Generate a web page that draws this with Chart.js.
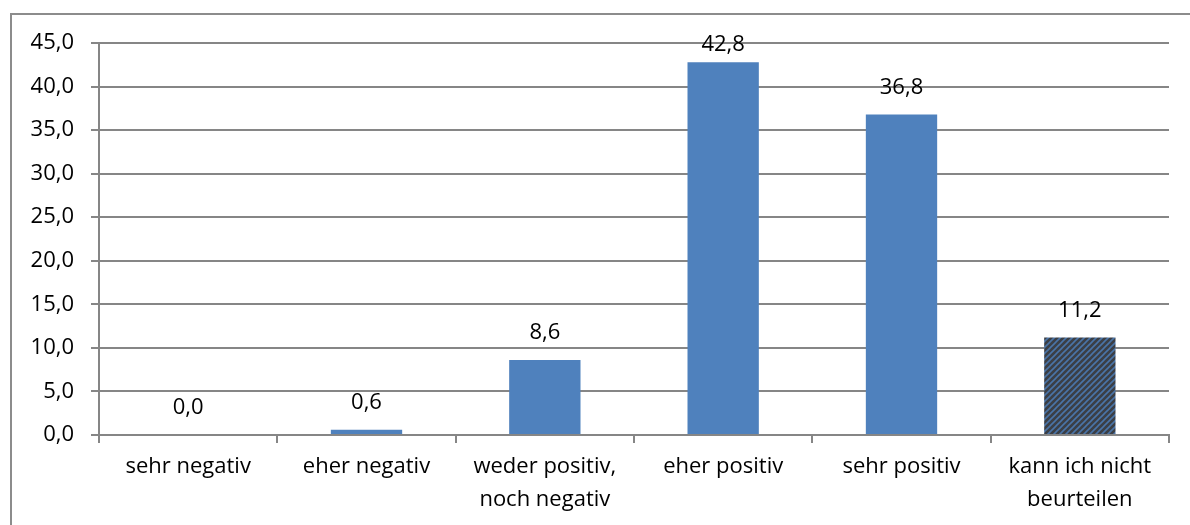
<!DOCTYPE html>
<html lang="de">
<head>
<meta charset="UTF-8" />
<title>Bewertung</title>
<script src="https://cdn.jsdelivr.net/npm/chart.js"></script>
<style>
  html, body { margin: 0; padding: 0; background: #fff; }
  #wrap { position: relative; width: 1190px; height: 525px; }
  #frame {
    position: absolute; left: 10px; top: 13px; right: -2px; bottom: -2px;
    border-top: 2px solid #8c8c8c; border-left: 2px solid #8c8c8c;
  }
  canvas { position: absolute; left: 0; top: 0; }
</style>
</head>
<body>
<div id="wrap">
  <div id="frame"></div>
  <canvas id="chart" width="1190" height="525"></canvas>
</div>
<script>
// Kategorien und Werte (Prozent)
const categories = [
  "sehr negativ",
  "eher negativ",
  ["weder positiv,", "noch negativ"],
  "eher positiv",
  "sehr positiv",
  ["kann ich nicht", "beurteilen"]
];
const values = [0.0, 0.6, 8.6, 42.8, 36.8, 11.2];
const yTicks = [0, 5, 10, 15, 20, 25, 30, 35, 40, 45];

const blue = "#4f81bd";
const gridGray = "#868686";
const fontFam = "'Open Sans', 'Noto Sans', sans-serif";
const fontSize = 22;

// schraffiertes Muster fuer "kann ich nicht beurteilen"
function makeHatch() {
  const c = document.createElement("canvas");
  c.width = 6; c.height = 6;
  const g = c.getContext("2d");
  g.fillStyle = "#3b3f46";
  g.fillRect(0, 0, 6, 6);
  g.strokeStyle = "#4a74a8";
  g.lineWidth = 1.6;
  g.beginPath();
  g.moveTo(-1, 7); g.lineTo(7, -1);
  g.moveTo(-4, 4); g.lineTo(4, -4);
  g.moveTo(2, 10); g.lineTo(10, 2);
  g.stroke();
  return g.createPattern(c, "repeat");
}
const hatch = makeHatch();
const barColors = values.map((v, i) => i === values.length - 1 ? hatch : blue);

const fmt = (v) => v.toFixed(1).replace(".", ",");

const valueLabels = {
  id: "valueLabels",
  afterDatasetsDraw(chart) {
    const ctx = chart.ctx;
    const meta = chart.getDatasetMeta(0);
    ctx.save();
    ctx.font = fontSize + "px " + fontFam;
    ctx.fillStyle = "#000";
    ctx.textAlign = "center";
    ctx.textBaseline = "middle";
    meta.data.forEach((bar, i) => {
      let y = bar.y - 27;
      if (y < 45) y = 45;
      ctx.fillText(fmt(values[i]), bar.x, y);
    });
    ctx.restore();
  }
};

new Chart(document.getElementById("chart"), {
  type: "bar",
  data: {
    labels: categories,
    datasets: [{
      data: values,
      backgroundColor: barColors,
      borderWidth: 0,
      categoryPercentage: 1.0,
      barPercentage: 0.4
    }]
  },
  options: {
    responsive: false,
    animation: false,
    events: [],
    layout: { padding: { left: 0, right: 21, top: 43, bottom: 0 } },
    plugins: { legend: { display: false }, tooltip: { enabled: false } },
    scales: {
      x: {
        offset: true,
        grid: {
          offset: true,
          drawOnChartArea: false,
          drawTicks: true,
          tickLength: 8,
          color: gridGray,
          lineWidth: 2
        },
        border: { color: gridGray, width: 2 },
        ticks: {
          color: "#000",
          font: { size: fontSize, family: fontFam, lineHeight: 1.5 },
          padding: 7,
          maxRotation: 0,
          autoSkip: false
        },
        afterFit(scale) { scale.height = 90; }
      },
      y: {
        min: 0,
        max: 45,
        afterBuildTicks(scale) { scale.ticks = yTicks.map(v => ({ value: v })); },
        grid: {
          color: gridGray,
          lineWidth: 2,
          drawTicks: true,
          tickLength: 8
        },
        border: { color: gridGray, width: 2 },
        ticks: {
          color: "#000",
          font: { size: fontSize, family: fontFam },
          padding: 17,
          callback: (v) => fmt(v)
        },
        afterFit(scale) { scale.width = 99; }
      }
    }
  },
  plugins: [valueLabels]
});
</script>
</body>
</html>
